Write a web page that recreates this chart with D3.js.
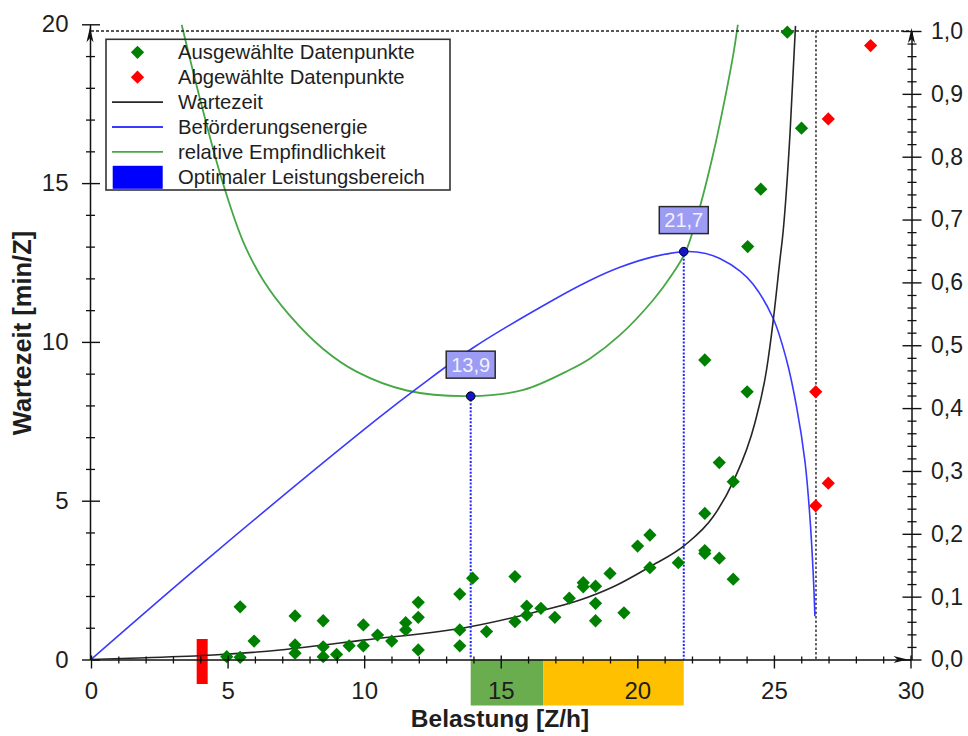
<!DOCTYPE html>
<html><head><meta charset="utf-8">
<script src="https://cdn.jsdelivr.net/npm/d3@7"></script>
<style>body{margin:0;background:#fff}svg{display:block;font-family:"Liberation Sans",Arial,sans-serif}</style>
</head><body>
<svg id="chart" width="968" height="736"></svg>
<script>
// ---------- data ----------
const selectedLoad = [4.97,5.46,5.46,5.97,7.47,7.47,7.47,8.5,8.5,8.5,8.99,9.45,9.97,9.97,10.49,11.01,11.52,11.52,11.98,11.98,11.98,13.5,13.5,13.5,13.97,14.48,
  15.52,15.52,15.95,15.95,16.47,16.98,17.51,18.02,18.02,18.47,18.47,18.47,19.0,19.51,20.01,20.46,20.46,21.5,22.47,22.47,23.0,23.51,
  25.49,26.01,24.52,24.04,22.47,24.02,23.0,23.51,22.47];
const selectedWait = [0.09,0.07,1.66,0.58,1.37,0.46,0.2,1.22,0.4,0.09,0.16,0.43,1.09,0.43,0.77,0.58,1.16,0.93,1.8,1.33,0.3,2.06,0.93,0.43,2.56,0.88,
  2.61,1.19,1.68,1.4,1.61,1.33,1.93,2.42,2.29,2.31,1.77,1.22,2.71,1.47,3.57,3.92,2.89,3.05,3.43,3.34,3.19,2.53,
  19.75,16.73,14.81,13.0,9.43,8.43,6.2,5.6,4.6];
const deselectedLoad = [28.54,26.99,26.53,26.99,26.53];
const deselectedWait = [19.33,17.02,8.43,5.55,4.84];

const waitCurveLoad  = [0,1.43,4.48,6.92,9.97,13.87,16.07,17.9,19.12,20.46,21.74,22.78,23.51,24.3,24.73,24.97,25.22,25.34,25.59,25.79];
const waitCurveValue = [0,0.04,0.14,0.3,0.61,1.03,1.45,1.87,2.29,2.92,3.6,4.5,5.6,7.44,9.12,10.64,12.58,13.5,16.57,19.95];

const energyLoad  = [0,4.24,10.46,12.04,13.99,16.92,18.26,19.36,20.6,21.77,22.5,23.02,23.76,24.24,24.97,25.46,25.83,26.14,26.32,26.44,26.5];
const energyValue = [0,0.159,0.382,0.435,0.496,0.572,0.603,0.624,0.641,0.649,0.646,0.638,0.618,0.597,0.543,0.477,0.402,0.314,0.225,0.135,0.069];

const sensLoad  = [3.32,3.99,4.78,5.57,6.31,7.28,8.5,9.72,11.56,13.87,15.83,17.53,18.27,19.36,20.58,21.31,21.77,22.29,22.78,23.14,23.51,23.68];
const sensValue = [1.01,0.892,0.765,0.665,0.603,0.547,0.494,0.458,0.428,0.419,0.429,0.461,0.479,0.516,0.572,0.615,0.649,0.72,0.805,0.878,0.962,1.01];

const optimumLoad   = [13.9, 21.7];
const optimumValue  = [0.419, 0.649];
const optimumLabels = ["13,9", "21,7"];

const bandStart = [13.9, 16.55];
const bandEnd   = [16.55, 21.7];
const redMarkerLoad = [4.07];
const capacityLoad = [26.54];

const xTickValues = [0,5,10,15,20,25,30];
const yLeftTickValues = [0,5,10,15,20];
const yRightTickValues = [0,0.1,0.2,0.3,0.4,0.5,0.6,0.7,0.8,0.9,1.0];

const legendLabels = ["Ausgewählte Datenpunkte","Abgewählte Datenpunkte","Wartezeit","Beförderungsenergie","relative Empfindlichkeit","Optimaler Leistungsbereich"];
const xTitle = "Belastung [Z/h]";
const yTitle = "Wartezeit [min/Z]";

// ---------- drawing ----------
const svg = d3.select("#chart");
const x  = d3.scaleLinear().domain([0,30]).range([91,910.5]);
const yL = d3.scaleLinear().domain([0,20]).range([659.5,24.3]);
const yR = d3.scaleLinear().domain([0,1]).range([659.5,31]);
const loc = d3.formatLocale({decimal:",",thousands:".",grouping:[3],currency:["","€"]});
const fmt1 = loc.format(".1f");
const textCol = "#1e1e1e";

// bands under x axis
const bandColors = ["#6aad4f","#ffc000"];
svg.append("g").selectAll("rect").data(bandStart).join("rect")
  .attr("x", d => x(d)).attr("width", (d,i) => x(bandEnd[i]) - x(d))
  .attr("y", yL(0)).attr("height", 46).attr("fill", (d,i) => bandColors[i]);

// red marker
svg.append("g").selectAll("rect").data(redMarkerLoad).join("rect")
  .attr("x", d => x(d) - 5.5).attr("width", 11)
  .attr("y", yL(0) - 20.5).attr("height", 45).attr("fill", "#ff0000");

svg.append("defs").append("clipPath").attr("id","plotclip").append("rect")
  .attr("x", x(0)).attr("y", yL(20)).attr("width", x(30)-x(0)).attr("height", yL(0)-yL(20));

const plot = svg.append("g").attr("clip-path","url(#plotclip)");

// dashed reference lines
svg.append("line").attr("x1", x(0)).attr("x2", x(30)).attr("y1", yR(1)).attr("y2", yR(1))
  .attr("stroke","#222").attr("stroke-width",1.3).attr("stroke-dasharray","3,2");
svg.selectAll("line.cap").data(capacityLoad).join("line").attr("class","cap")
  .attr("x1", d => x(d)).attr("x2", d => x(d)).attr("y1", yR(1)).attr("y2", yL(0))
  .attr("stroke","#333").attr("stroke-width",1.5).attr("stroke-dasharray","2.5,2");

// optimum dotted verticals
svg.selectAll("line.opt").data(optimumLoad).join("line").attr("class","opt")
  .attr("x1", d => x(d)).attr("x2", d => x(d)).attr("y1", (d,i) => yR(optimumValue[i])).attr("y2", yL(0))
  .attr("stroke","#2424ff").attr("stroke-width",2).attr("stroke-dasharray","2,1.6");

// curves
const lineS = d3.line().curve(d3.curveCatmullRom.alpha(0.5));
const lineM = d3.line().curve(d3.curveMonotoneX);
const sensPts = sensLoad.map((d,i) => [x(d), yR(sensValue[i])]);
const energyPts = energyLoad.map((d,i) => [x(d), yR(energyValue[i])]);
const waitPts = waitCurveLoad.map((d,i) => [x(d), yL(waitCurveValue[i])]);
plot.append("path").attr("d", lineS(sensPts)).attr("fill","none").attr("stroke","#45a845").attr("stroke-width",1.8);
plot.append("path").attr("d", lineS(energyPts)).attr("fill","none").attr("stroke","#3a3aff").attr("stroke-width",1.6);
plot.append("path").attr("d", lineM(waitPts)).attr("fill","none").attr("stroke","#262626").attr("stroke-width",1.6);

// data points
const diamond = d3.symbol(d3.symbolSquare, 88);
svg.append("g").selectAll("path").data(selectedLoad).join("path")
  .attr("d", diamond).attr("fill","#008000")
  .attr("transform", (d,i) => `translate(${x(d)},${yL(selectedWait[i])}) rotate(45)`);
svg.append("g").selectAll("path").data(deselectedLoad).join("path")
  .attr("d", diamond).attr("fill","#ff0000")
  .attr("transform", (d,i) => `translate(${x(d)},${yL(deselectedWait[i])}) rotate(45)`);

// optimum points and label boxes
svg.append("g").selectAll("circle").data(optimumLoad).join("circle")
  .attr("cx", d => x(d)).attr("cy", (d,i) => yR(optimumValue[i])).attr("r", 4.3)
  .attr("fill","#1515c8").attr("stroke","#000").attr("stroke-width",1);
const lab = svg.append("g").selectAll("g").data(optimumLoad).join("g")
  .attr("transform", (d,i) => `translate(${x(d)},${yR(optimumValue[i]) - 18})`);
lab.append("rect").attr("x",-24.5).attr("y",-27).attr("width",49).attr("height",27)
  .attr("fill","#9c9cf4").attr("stroke","#2a2a2a").attr("stroke-width",1.5);
lab.append("text").attr("x",0).attr("y",-6.5).attr("text-anchor","middle")
  .attr("font-size",20).attr("fill","#f2f2ff").text((d,i) => optimumLabels[i]);

// axes
function styleAxis(g){ g.select(".domain").attr("stroke","#111").attr("stroke-width",1.5);
  g.selectAll(".tick line").attr("stroke","#111").attr("stroke-width",1.4);
  g.selectAll("text").attr("fill",textCol).attr("font-family",'"Liberation Sans",Arial,sans-serif'); }

// x axis
const xMinor = svg.append("g").attr("transform",`translate(0,${yL(0)})`)
  .call(d3.axisBottom(x).tickValues(d3.range(0,31,1).filter(v => v % 5 !== 0)).tickSize(4).tickFormat(""));
xMinor.select(".domain").remove();
xMinor.selectAll(".tick line").attr("y1",-3).attr("stroke","#111").attr("stroke-width",1.3);
const xAx = svg.append("g").attr("transform",`translate(0,${yL(0)})`)
  .call(d3.axisBottom(x).tickValues(xTickValues).tickSize(9).tickSizeOuter(0).tickPadding(13.5).tickFormat(d3.format("d")));
xAx.selectAll(".tick line").attr("y1",-4);
xAx.selectAll("text").attr("font-size",24);
styleAxis(xAx);

// left y axis
const yMinor = svg.append("g").attr("transform",`translate(${x(0)-1},0)`)
  .call(d3.axisLeft(yL).tickValues(d3.range(0,21,1).filter(v => v % 5 !== 0)).tickSize(4).tickFormat(""));
yMinor.select(".domain").remove();
yMinor.selectAll(".tick line").attr("x1",5).attr("stroke","#111").attr("stroke-width",1.3);
const yAx = svg.append("g").attr("transform",`translate(${x(0)-1},0)`)
  .call(d3.axisLeft(yL).tickValues(yLeftTickValues).tickSize(8).tickSizeOuter(0).tickPadding(13.5).tickFormat(d3.format("d")));
yAx.selectAll(".tick line").attr("x1",10);
yAx.selectAll("text").attr("font-size",24);
styleAxis(yAx);

// right y axis
const rMinor = svg.append("g").attr("transform",`translate(${x(30)+1},0)`)
  .call(d3.axisRight(yR).tickValues(d3.range(0,51,1).filter(v => v % 5 !== 0).map(v => v/50)).tickSize(5).tickFormat(""));
rMinor.select(".domain").remove();
rMinor.selectAll(".tick line").attr("x1",-4).attr("stroke","#111").attr("stroke-width",1.3);
const rAx = svg.append("g").attr("transform",`translate(${x(30)+1},0)`)
  .call(d3.axisRight(yR).tickValues(yRightTickValues).tickSize(10).tickSizeOuter(0).tickPadding(9.5).tickFormat(fmt1));
rAx.selectAll(".tick line").attr("x1",-9);
rAx.selectAll("text").attr("font-size",23);
styleAxis(rAx);

// arrow heads
const ax0 = x(0)-1, ax1 = x(30)+1;
svg.append("path").attr("d",`M${ax0},${yL(20)+3} L${ax0+3.5},${yL(20)+18} L${ax0},${yL(20)+14} L${ax0-3.5},${yL(20)+18} Z`).attr("fill","#111");
svg.append("path").attr("d",`M${ax1},${yR(1)-3} L${ax1+3.5},${yR(1)+12} L${ax1},${yR(1)+8} L${ax1-3.5},${yR(1)+12} Z`).attr("fill","#111");
svg.append("path").attr("d",`M${x(30)-3},${yL(0)} L${x(30)-17},${yL(0)-3.5} L${x(30)-13},${yL(0)} L${x(30)-17},${yL(0)+3.5} Z`).attr("fill","#111");

// axis titles
svg.append("text").attr("x",500).attr("y",727).attr("text-anchor","middle")
  .attr("font-size",24.5).attr("font-weight","bold").attr("fill",textCol).text(xTitle);
svg.append("text").attr("transform","translate(31,333) rotate(-90)").attr("text-anchor","middle")
  .attr("font-size",25.5).attr("font-weight","bold").attr("fill",textCol).text(yTitle);

// legend
const lg = svg.append("g");
lg.append("rect").attr("x",106).attr("y",39.3).attr("width",344).attr("height",150.7)
  .attr("fill","none").attr("stroke","#333").attr("stroke-width",1.6);
const rowY = i => 52.3 + 24.9*i;
lg.selectAll("text").data(legendLabels).join("text")
  .attr("x",178).attr("y",(d,i) => rowY(i)).attr("dy","0.35em")
  .attr("font-size",20.3).attr("fill",textCol).text(d => d);
lg.append("path").attr("d",diamond).attr("fill","#008000").attr("transform",`translate(137.5,${rowY(0)}) rotate(45)`);
lg.append("path").attr("d",diamond).attr("fill","#ff0000").attr("transform",`translate(137.5,${rowY(1)}) rotate(45)`);
const legLineCols = ["#262626","#3a3aff","#45a845"];
legLineCols.forEach((c,k) => lg.append("line").attr("x1",112).attr("x2",163)
  .attr("y1",rowY(k+2)).attr("y2",rowY(k+2)).attr("stroke",c).attr("stroke-width",1.8));
lg.append("rect").attr("x",112.7).attr("y",rowY(5)-11).attr("width",50).attr("height",23).attr("fill","#0000ff");
</script>
</body></html>
